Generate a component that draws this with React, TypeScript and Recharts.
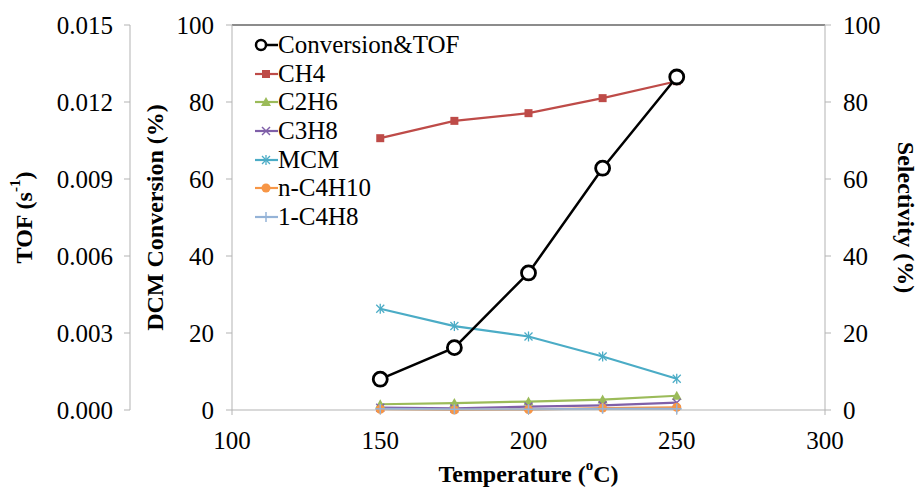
import React from 'react'
import { LineChart, Line, XAxis, YAxis, ReferenceLine, Legend } from 'recharts'

// temperatures (ºC)
const temperature = [150, 175, 200, 225, 250]
// DCM conversion (%) -- also read on TOF axis
const conversion = [8.0, 16.2, 35.6, 62.8, 86.5]
// selectivities (%)
const ch4 = [70.6, 75.1, 77.1, 81.0, 85.4]
const c2h6 = [1.5, 1.8, 2.2, 2.7, 3.7]
const c3h8 = [0.6, 0.4, 0.9, 1.2, 1.9]
const mcm = [26.3, 21.8, 19.1, 13.9, 8.1]
const nC4h10 = [0.2, 0.0, 0.1, 0.5, 0.7]
const c4h8 = [0.3, 0.2, 0.2, 0.3, 0.3]

const xTicks = [100, 150, 200, 250, 300]
const percentTicks = [0, 20, 40, 60, 80, 100]
const tofTicks = [0, 0.003, 0.006, 0.009, 0.012, 0.015]

const data = temperature.map((t, i) => ({
  t,
  conversion: conversion[i],
  ch4: ch4[i],
  c2h6: c2h6[i],
  c3h8: c3h8[i],
  mcm: mcm[i],
  nC4h10: nC4h10[i],
  c4h8: c4h8[i]
}))

type Kind = 'ring' | 'square' | 'triangle' | 'cross' | 'star' | 'dot' | 'plus'

type Series = { key: string, name: string, color: string, kind: Kind, width: number }

// legend order
const series: Series[] = [
  { key: 'conversion', name: 'Conversion&TOF', color: '#000000', kind: 'ring', width: 2.5 },
  { key: 'ch4', name: 'CH4', color: '#be4b48', kind: 'square', width: 2.2 },
  { key: 'c2h6', name: 'C2H6', color: '#9bbb59', kind: 'triangle', width: 2.2 },
  { key: 'c3h8', name: 'C3H8', color: '#7f5fa8', kind: 'cross', width: 2.2 },
  { key: 'mcm', name: 'MCM', color: '#4bacc6', kind: 'star', width: 2.2 },
  { key: 'nC4h10', name: 'n-C4H10', color: '#f79646', kind: 'dot', width: 2.2 },
  { key: 'c4h8', name: '1-C4H8', color: '#95b3d7', kind: 'plus', width: 2.2 }
]

const font = 'Liberation Serif'
const axisGray = '#b3b3b3'
const tickStyle = { fill: '#000', fontSize: 25, fontFamily: font, style: { fontFamily: font } }

function marker (kind: Kind, color: string, cx: number, cy: number, key?: any) {
  switch (kind) {
    case 'ring':
      return <circle key={key} cx={cx} cy={cy} r={7} fill='#fff' stroke='#000' strokeWidth={2.8} />
    case 'square':
      return <rect key={key} x={cx - 4} y={cy - 4} width={8} height={8} fill={color} />
    case 'triangle':
      return <polygon key={key} points={`${cx},${cy - 5} ${cx + 5},${cy + 4} ${cx - 5},${cy + 4}`} fill={color} />
    case 'cross':
      return (
        <g key={key} stroke={color} strokeWidth={1.5}>
          <line x1={cx - 4} y1={cy - 4} x2={cx + 4} y2={cy + 4} />
          <line x1={cx - 4} y1={cy + 4} x2={cx + 4} y2={cy - 4} />
        </g>
      )
    case 'star':
      return (
        <g key={key} stroke={color} strokeWidth={1.3}>
          <line x1={cx - 4} y1={cy - 4} x2={cx + 4} y2={cy + 4} />
          <line x1={cx - 4} y1={cy + 4} x2={cx + 4} y2={cy - 4} />
          <line x1={cx} y1={cy - 5} x2={cx} y2={cy + 5} />
        </g>
      )
    case 'dot':
      return <circle key={key} cx={cx} cy={cy} r={4.5} fill={color} />
    case 'plus':
      return (
        <g key={key} stroke={color} strokeWidth={1.5}>
          <line x1={cx - 5} y1={cy} x2={cx + 5} y2={cy} />
          <line x1={cx} y1={cy - 5} x2={cx} y2={cy + 5} />
        </g>
      )
  }
}

function LegendBox () {
  return (
    <div style={{ fontFamily: font, fontSize: 25, color: '#000' }}>
      {series.map(s => (
        <div key={s.key} style={{ display: 'flex', alignItems: 'center', height: 28.6, whiteSpace: 'nowrap' }}>
          <svg width={24} height={20}>
            <line x1={s.kind === 'ring' ? 8 : 1} y1={10} x2={24} y2={10} stroke={s.color} strokeWidth={s.width} />
            {s.kind === 'ring'
              ? <circle cx={7} cy={10} r={5} fill='#fff' stroke='#000' strokeWidth={2.5} />
              : marker(s.kind, s.color, 12, 10)}
          </svg>
          <span style={{ fontFamily: font }}>{s.name}</span>
        </div>
      ))}
    </div>
  )
}

function VTitle ({ viewBox, cx, angle, children }: any) {
  const cy = viewBox.y + viewBox.height / 2
  return (
    <text
      x={cx}
      y={cy}
      transform={`rotate(${angle} ${cx} ${cy})`}
      textAnchor='middle'
      dominantBaseline='central'
      style={{ fontFamily: font }}
      fontWeight='bold'
      fontSize={24}
      fill='#000'
    >
      {children}
    </text>
  )
}

export default function App () {
  const order = [...series.slice(1), series[0]]
  return (
    <div style={{ position: 'absolute', left: 0, top: 0, width: 921, height: 490, background: '#fff', fontFamily: font }}>
      <LineChart width={921} height={490} data={data} margin={{ top: 25, right: 0, bottom: 0, left: 0 }} style={{ fontFamily: font }}>
        <XAxis
          dataKey='t'
          type='number'
          domain={[100, 300]}
          ticks={xTicks}
          stroke={axisGray}
          tickSize={5}
          tickMargin={16}
          tick={tickStyle}
          height={80}
          label={{
            content: ({ viewBox }: any) => (
              <text
                x={viewBox.x + viewBox.width / 2}
                y={viewBox.y + 64}
                textAnchor='middle'
                dominantBaseline='central'
                style={{ fontFamily: font }}
                fontWeight='bold'
                fontSize={24}
                fill='#000'
              >
                Temperature (
                <tspan fontSize={15} dy={-9}>o</tspan>
                <tspan dy={9}>C)</tspan>
              </text>
            )
          }}
        />
        <YAxis
          yAxisId='conv'
          orientation='left'
          domain={[0, 100]}
          ticks={percentTicks}
          width={102}
          stroke={axisGray}
          tickSize={6}
          tickMargin={12}
          tick={tickStyle}
          label={{ content: ({ viewBox }: any) => <VTitle viewBox={viewBox} cx={viewBox.x + 25} angle={-90}>DCM Conversion (%)</VTitle> }}
        />
        <YAxis
          yAxisId='tof'
          orientation='left'
          domain={[0, 0.015]}
          ticks={tofTicks}
          tickFormatter={(v: number) => v.toFixed(3)}
          width={130}
          stroke={axisGray}
          tickSize={6}
          tickMargin={11}
          tick={tickStyle}
          allowDataOverflow
          label={{
            content: ({ viewBox }: any) => (
              <VTitle viewBox={viewBox} cx={viewBox.x + 24} angle={-90}>
                TOF (s<tspan fontSize={15} dy={-9}>-1</tspan><tspan dy={9}>)</tspan>
              </VTitle>
            )
          }}
        />
        <YAxis
          yAxisId='sel'
          orientation='right'
          domain={[0, 100]}
          ticks={percentTicks}
          width={96}
          stroke={axisGray}
          tickSize={6}
          tickMargin={12}
          tick={tickStyle}
          label={{ content: ({ viewBox }: any) => <VTitle viewBox={viewBox} cx={viewBox.x + 81} angle={90}>Selectivity (%)</VTitle> }}
        />
        <ReferenceLine yAxisId='conv' y={100} stroke='#666' strokeWidth={1.5} />
        <Legend
          layout='vertical'
          align='center'
          verticalAlign='middle'
          wrapperStyle={{ left: 254, top: 31, width: 240 }}
          content={() => <LegendBox />}
        />
        {order.map(s => (
          <Line
            key={s.key}
            yAxisId={s.key === 'conversion' ? 'conv' : 'sel'}
            dataKey={s.key}
            name={s.name}
            stroke={s.color}
            strokeWidth={s.width}
            type='linear'
            isAnimationActive={false}
            dot={(p: any) => marker(s.kind, s.color, p.cx, p.cy, p.index)}
            activeDot={false}
          />
        ))}
      </LineChart>
    </div>
  )
}
